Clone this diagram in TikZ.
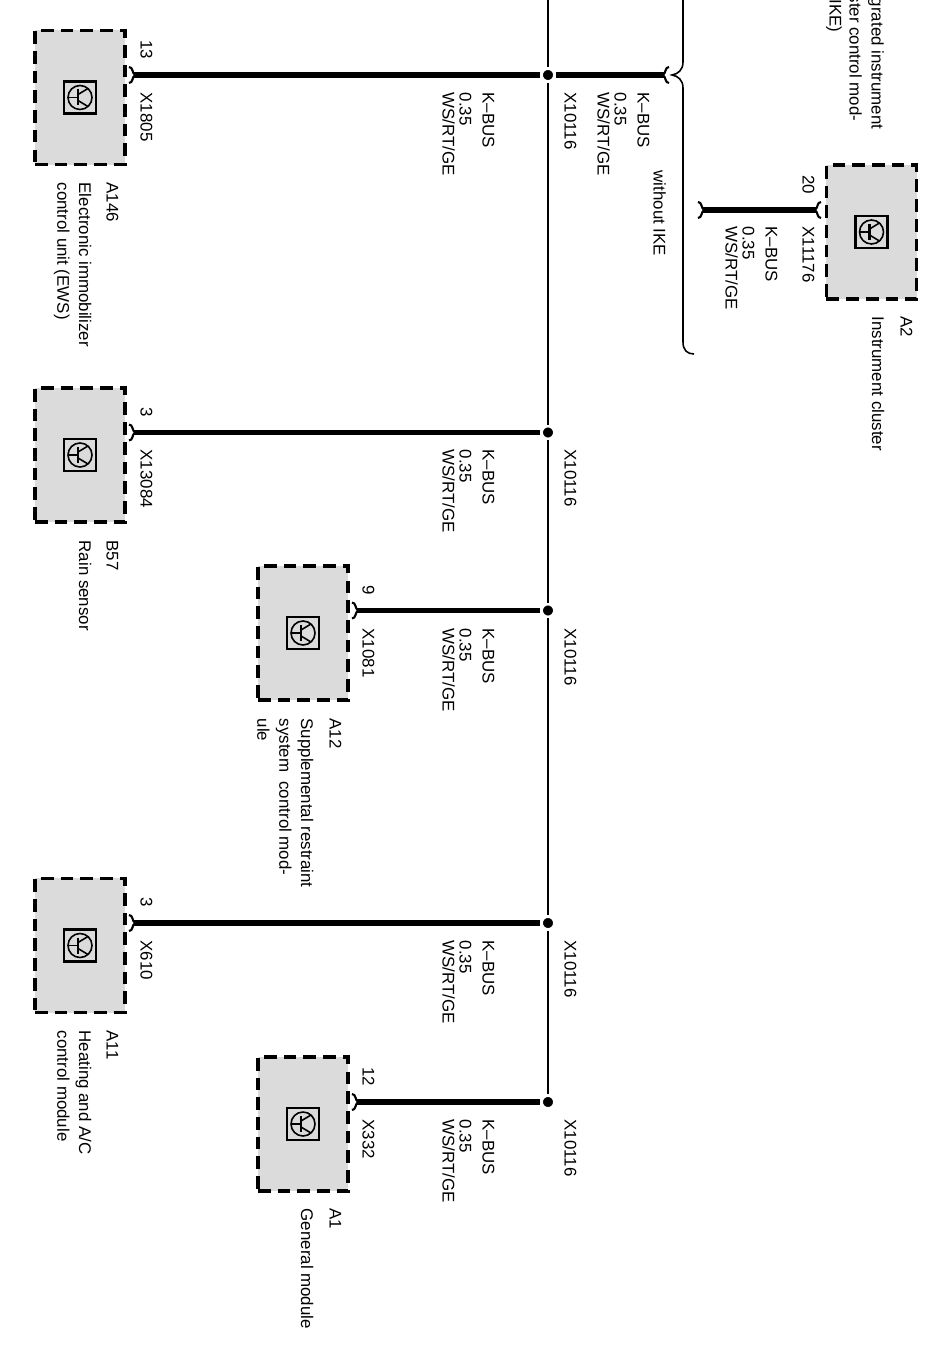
\documentclass[tikz,border=0pt]{standalone}
\usepackage{fontspec}
\setmainfont{Liberation Sans}
\usetikzlibrary{positioning}

\tikzset{
  module/.style={draw,fill=black!14,line width=1pt,dash pattern=on 3.6pt off 2pt,minimum width=0.9cm,minimum height=1.34cm,inner sep=0},
  bus/.style={line width=0.45pt},
  wire/.style={line width=1.65pt},
  dot/.style={circle,fill=black,draw=white,line width=0.8pt,minimum size=0.13cm,inner sep=0},
  txt/.style={rotate=-90,anchor=mid west,inner sep=0,font=\fontsize{4.8}{6}\selectfont},
  title/.style={rotate=-90,anchor=north west,inner sep=0,align=left,font=\fontsize{4.8}{6.2}\selectfont},
  cup/.pic={\draw[line width=0.6pt] (-5,-8) .. controls (-1,-8) and (-2,-2) .. (1,0) .. controls (-2,2) and (-1,8) .. (-5,8);},
  transistor/.pic={
    \draw[line width=0.6pt] (-16,-16) rectangle (16,16);
    \draw[line width=0.45pt] (0,0) circle (12);
    \draw[line width=0.45pt] (-12,0) -- (-2,0);
    \draw[line width=0.6pt] (-2,-8) -- (-2,8);
    \draw[line width=0.45pt] (-2,-3) -- (8,-9);
    \draw[line width=0.45pt] (-2,3) -- (8,9);
  }
}
% the three lines beside a wire
\newcommand{\kbus}[3]{%
  \node[txt] (#1a) at (#2,#3) {K--BUS};
  \node[txt] (#1b) at (#2-23,#3) {0.35};
  \node[txt] (#1c) at (#2-40,#3) {WS/RT/GE};
}

\begin{document}
\begin{tikzpicture}[x=0.01cm,y=-0.01cm]
\useasboundingbox (0,0) rectangle (946,1349);

% the modules
\node[module] (A146) at (80,97.5) {};
\node[module] (B57) at (80,455) {};
\node[module] (A12) at (303,633) {};
\node[module] (A11) at (80,945.5) {};
\node[module] (A1) at (303,1124) {};
\node[module] (A2) at (871.5,232) {};

% the symbols
\pic at (A146) {transistor};
\pic at (B57) {transistor};
\pic at (A12) {transistor};
\pic at (A11) {transistor};
\pic at (A1) {transistor};
\pic at (A2) {transistor};

% the splices on the bus
\coordinate (bustop) at (548,-2);
\node[dot] (j146) at (548,75) {};
\node[dot] (j57) at (548,432.5) {};
\node[dot] (j12) at (548,610.5) {};
\node[dot] (j11) at (548,923) {};
\node[dot] (j1) at (548,1102) {};
\draw[bus] (bustop) -- (j146) -- (j57) -- (j12) -- (j11) -- (j1);

% the pins
\coordinate (p146) at (134,75);
\coordinate (p57) at (134,432.5);
\coordinate (p12) at (357,610.5);
\coordinate (p11) at (134,923);
\coordinate (p1) at (357,1102);
\coordinate (p2) at (816,210);
\coordinate (w2) at (703,210);
\coordinate (ike) at (664,75);

% the wires
\draw[wire] (p146) -- (j146);
\draw[wire] (p57) -- (j57);
\draw[wire] (p12) -- (j12);
\draw[wire] (p11) -- (j11);
\draw[wire] (p1) -- (j1);
\draw[wire] (j146) -- (ike);
\draw[wire] (w2) -- (p2);

% the cups at the wire ends
\pic at (p146) {cup};
\pic at (p57) {cup};
\pic at (p12) {cup};
\pic at (p11) {cup};
\pic at (p1) {cup};
\pic[xscale=-1] at (p2) {cup};
\pic at (w2) {cup};
\pic[xscale=-1] at (ike) {cup};

% the brace
\coordinate (bracetop) at (683,-2);
\coordinate (bracetip) at (672,75);
\coordinate (braceend) at (694,354);
\draw[line width=0.45pt] (bracetop) -- (683,62) .. controls (683,70) and (678,74) .. (bracetip)
  .. controls (678,76) and (683,80) .. (683,88) -- (683,342) .. controls (683,350) and (687,354) .. (braceend);

% pin numbers and plugs
\node[txt,anchor=mid east] (n146) at (150,60) {13};
\node[txt] (x146) at (150,92) {X1805};
\node[txt,anchor=mid east] (n57) at (150,417.5) {3};
\node[txt] (x57) at (150,449) {X13084};
\node[txt,anchor=mid east] (n12) at (372,595.5) {9};
\node[txt] (x12) at (372,628) {X1081};
\node[txt,anchor=mid east] (n11) at (150,908) {3};
\node[txt] (x11) at (150,940) {X610};
\node[txt,anchor=mid east] (n1) at (372,1087) {12};
\node[txt] (x1) at (372,1119) {X332};
\node[txt,anchor=mid east] (n2) at (812,195) {20};
\node[txt] (x2) at (812,226) {X11176};

% the splice names
\node[txt] (s146) at (574,92) {X10116};
\node[txt] (s57) at (574,449) {X10116};
\node[txt] (s12) at (574,628) {X10116};
\node[txt] (s11) at (574,940) {X10116};
\node[txt] (s1) at (574,1119) {X10116};

% the wire data
\kbus{d146}{492}{92}
\kbus{d57}{492}{449}
\kbus{d12}{492}{628}
\kbus{d11}{492}{940}
\kbus{d1}{492}{1119}
\kbus{dike}{647}{92}
\kbus{d2}{775}{226}

% the module names
\node[txt] (tA146) at (116,182) {A146};
\node[title] (lA146) at (92,182) {Electronic immobilizer\\control unit (EWS)};
\node[txt] (tB57) at (116,540) {B57};
\node[title] (lB57) at (92,540) {Rain sensor};
\node[txt] (tA12) at (339,718) {A12};
\node[title] (lA12) at (314,718) {Supplemental restraint\\system\ \ control mod-\\ule};
\node[txt] (tA11) at (116,1030) {A11};
\node[title] (lA11) at (92,1030) {Heating and A/C\\control module};
\node[txt] (tA1) at (339,1208) {A1};
\node[title] (lA1) at (314,1208) {General module};
\node[txt] (tA2) at (910,316) {A2};
\node[title] (lA2) at (885,316) {Instrument cluster};
\node[txt] (noike) at (663,170) {without IKE};

% the module cut off at the top
\node[txt,anchor=mid east] (ik1) at (881,130) {grated instrument};
\node[txt,anchor=mid east] (ik2) at (859,122) {ster control mod-};
\node[txt,anchor=mid east] (ik3) at (839,33) {IKE)};
\end{tikzpicture}
\end{document}
